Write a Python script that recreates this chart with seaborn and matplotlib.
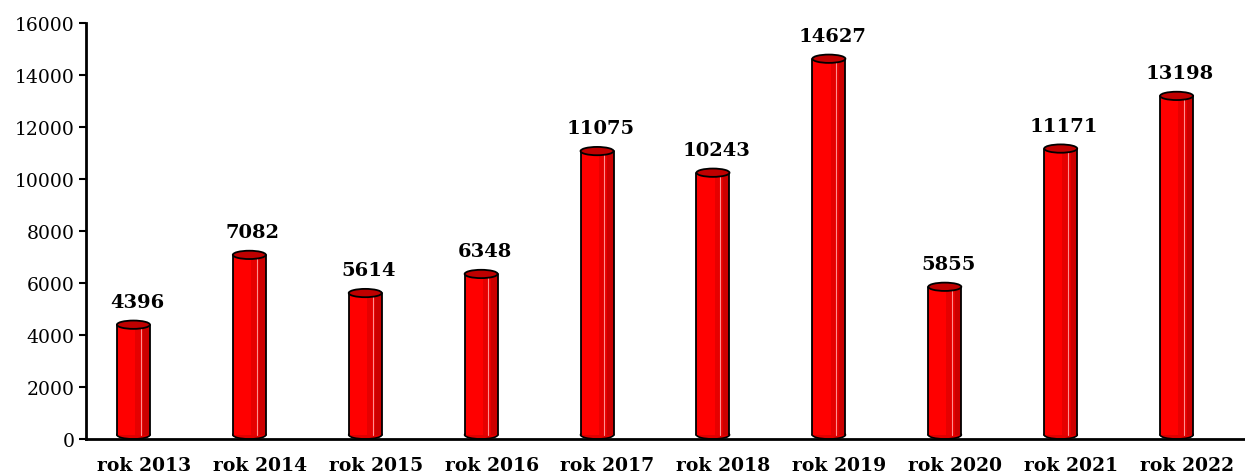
import matplotlib
matplotlib.use('Agg')
import matplotlib.pyplot as plt
import seaborn as sns
import pandas as pd
from matplotlib.patches import Ellipse, Rectangle

years = ['rok 2013', 'rok 2014', 'rok 2015', 'rok 2016', 'rok 2017',
         'rok 2018', 'rok 2019', 'rok 2020', 'rok 2021', 'rok 2022']
counts = [4396, 7082, 5614, 6348, 11075, 10243, 14627, 5855, 11171, 13198]
yticks = [0, 2000, 4000, 6000, 8000, 10000, 12000, 14000, 16000]

df = pd.DataFrame({'rok': years, 'liczba': counts})

sns.set_style('white')
plt.rcParams['font.family'] = ['DejaVu Serif']
plt.rcParams['text.color'] = 'black'
plt.rcParams['xtick.color'] = 'black'
plt.rcParams['ytick.color'] = 'black'

fig = plt.figure(figsize=(12.45, 4.77), dpi=100)
ax = fig.add_axes([0.069, 0.0776, 0.931, 0.872])

sns.barplot(data=df, x='rok', y='liczba', color='#ff0000', width=0.285,
            saturation=1, ax=ax)
ax.set_ylim(0, 16000)
ax.set_xlim(-0.5, 9.5)

eh = 320  # ellipse height in data units
shift = -0.09
for p, v in zip(ax.patches, counts):
    x0 = p.get_x() + shift
    w = p.get_width()
    cx = x0 + w / 2
    p.set_x(x0)
    p.set_y(eh / 2)
    p.set_height(v - eh / 2)
    p.set_edgecolor('none')
    p.set_zorder(3)
    # bottom rounding
    ax.add_patch(Ellipse((cx, eh / 2), w, eh, facecolor='#e00000',
                         edgecolor='black', lw=1.2, zorder=2))
    # side shading
    ax.add_patch(Rectangle((x0 + 0.55 * w, eh / 2), 0.45 * w, v - eh / 2,
                           facecolor='#e60000', edgecolor='none', zorder=3.1))
    ax.add_patch(Rectangle((x0 + 0.8 * w, eh / 2), 0.2 * w, v - eh / 2,
                           facecolor='#cc0000', edgecolor='none', zorder=3.2))
    ax.plot([x0 + 0.72 * w] * 2, [eh / 2, v], color='#ff9090', lw=0.8, zorder=3.3)
    ax.plot([x0, x0], [eh / 2, v], color='black', lw=1.3, zorder=3.4)
    ax.plot([x0 + w, x0 + w], [eh / 2, v], color='black', lw=1.3, zorder=3.4)
    # top
    ax.add_patch(Ellipse((cx, v), w, eh, facecolor='#bf0000',
                         edgecolor='black', lw=1.3, zorder=4))
    ax.annotate(f'{v}', (cx + 0.03, v), xytext=(0, 10), textcoords='offset points',
                ha='center', va='bottom', fontsize=14, fontweight='bold',
                color='black')

ax.set_yticks(yticks)
ax.set_yticklabels([str(t) for t in yticks], fontsize=13.5)
ax.set_xticks(range(len(years)))
ax.set_xticklabels(years, fontsize=13.5, fontweight='bold')
ax.set_xticks([i + 0.5 for i in range(len(years) - 1)], minor=True)
ax.tick_params(axis='x', which='major', length=0, pad=12)
ax.tick_params(axis='x', which='minor', length=6, width=1.5, color='black', direction='out')
ax.tick_params(axis='y', length=5, width=1.5, color='black', direction='out', pad=3, left=True)
ax.set_xlabel('')
ax.set_ylabel('')

for s in ['top', 'right']:
    ax.spines[s].set_visible(False)
for s in ['left', 'bottom']:
    ax.spines[s].set_color('black')
    ax.spines[s].set_linewidth(2)
    ax.spines[s].set_zorder(5)

fig.savefig('out.png', dpi=100)
